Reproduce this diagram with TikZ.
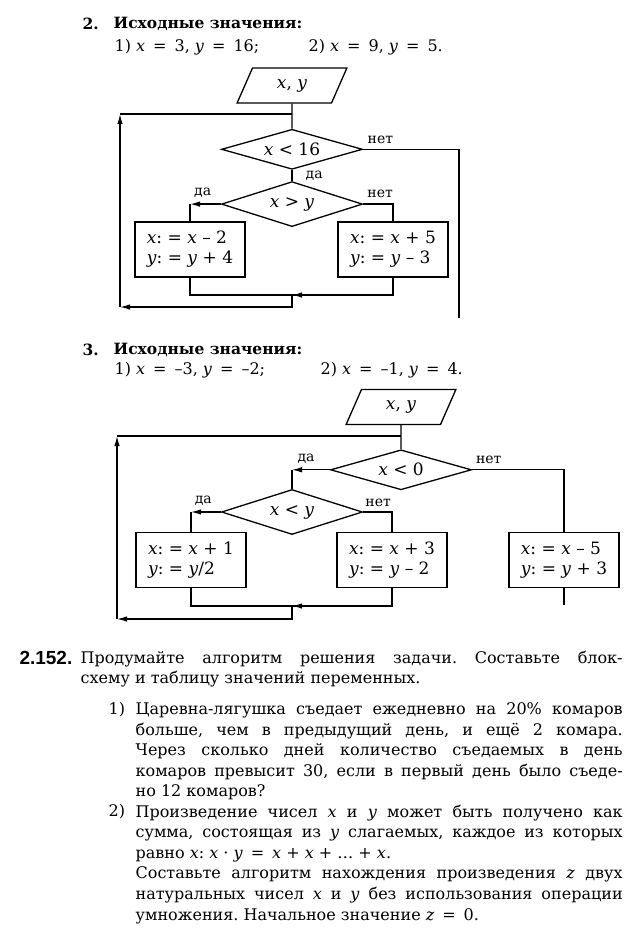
\documentclass[tikz,border=0pt]{standalone}
\usepackage{fontspec}
\setmainfont{DejaVu Serif}
\setsansfont{Liberation Sans}
\usetikzlibrary{positioning,arrows.meta,shapes.geometric}
\hyphenpenalty=10000
\exhyphenpenalty=10000
\frenchspacing
\newcommand{\vx}{\textit{x}}
\newcommand{\vy}{\textit{y}}
\newcommand{\vz}{\textit{z}}
\newcommand{\eqs}{\enspace=\enspace}

\begin{document}
\begin{tikzpicture}[x=1pt, y=-1pt, >={Latex[length=10pt,width=5.5pt]}, line width=1.3pt,
  every node/.style={font=\fontsize{17}{20}\selectfont, inner sep=0pt},
  iobox/.style={draw, trapezium, trapezium left angle=65, trapezium right angle=115,
    trapezium stretches=true, minimum width=110pt, minimum height=35pt},
  decision/.style={draw, diamond, aspect=3.5, minimum width=141pt, minimum height=40pt},
  opbox/.style={draw, rectangle, minimum width=110pt, minimum height=55pt, align=left},
  lbl/.style={font=\fontsize{14}{16}\selectfont},
  head/.style={font=\fontsize{15.5}{20}\selectfont},
  txt/.style={font=\fontsize{16}{20.6}\selectfont}]
  \useasboundingbox (0,0) rectangle (636,932);

  % exercise 2
  \node[head, anchor=west] (h2num) at (82,24) {\textbf{2.}};
  \node[head, anchor=west] (h2head) at (113,24) {\textbf{Исходные значения:}};
  \node[txt, anchor=west] (h2one) at (114,47) {1) \vx\eqs 3, \vy\eqs 16;};
  \node[txt, anchor=west] (h2two) at (308,47) {2) \vx\eqs 9, \vy\eqs 5.};

  \node[iobox] (in2) at (292,85.5) {\vx, \vy};
  \node[decision, below=25pt of in2] (lt16) {\vx{} < 16};
  \node[decision, minimum height=45pt, below=11pt of lt16] (gty) {\vx{} > \vy};
  \node[opbox] (dec2) at (190,249.5) {\vx: = \vx{} – 2\\\vy: = \vy{} + 4};
  \node[opbox] (inc2) at (393,249.5) {\vx: = \vx{} + 5\\\vy: = \vy{} – 3};

  \coordinate (join2) at (292,295);
  \coordinate (back2) at (120,307);
  \coordinate (top2) at (120,114);
  \coordinate (exit2) at (459,318);

  \draw (in2) -- (lt16);
  \draw (lt16) -- node[lbl, right=13pt] {да} (gty);
  \draw (lt16.east) -- node[lbl, above=5pt, pos=0.18] {нет} (lt16.east -| exit2) -- (exit2);
  \draw[->] (gty.west) -- node[lbl, above=6pt, pos=0.59] {да} (gty.west -| dec2.north);
  \draw (gty.west -| dec2.north) -- (dec2.north);
  \draw (gty.east) -- node[lbl, above=6pt, pos=0.57] {нет} (gty.east -| inc2.north) -- (inc2.north);
  \draw (dec2.south) |- (join2 -| inc2) -- (inc2.south);
  \draw[->] (join2 -| inc2) -- (join2);
  \draw[->] (join2) |- (back2);
  \draw[->] (back2) -- (top2);
  \draw (top2) -- (top2 -| in2);

  % exercise 3
  \node[head, anchor=west] (h3num) at (82,350) {\textbf{3.}};
  \node[head, anchor=west] (h3head) at (113,350) {\textbf{Исходные значения:}};
  \node[txt, anchor=west] (h3one) at (114,370) {1) \vx\eqs –3, \vy\eqs –2;};
  \node[txt, anchor=west] (h3two) at (320,370) {2) \vx\eqs –1, \vy\eqs 4.};

  \node[iobox] (in3) at (401,407) {\vx, \vy};
  \node[decision, below=24pt of in3] (lt0) {\vx{} < 0};
  \node[decision, minimum height=45pt] (lty) at (292,512) {\vx{} < \vy};
  \node[opbox] (inc1) at (191,560) {\vx: = \vx{} + 1\\\vy: = \vy/2};
  \node[opbox] (inc3) at (392,560) {\vx: = \vx{} + 3\\\vy: = \vy{} – 2};
  \node[opbox] (dec5) at (564,560) {\vx: = \vx{} – 5\\\vy: = \vy{} + 3};

  \coordinate (join3) at (292,606);
  \coordinate (back3) at (117,619);
  \coordinate (top3) at (117,436);
  \coordinate (exit3) at (564,605);

  \draw (in3) -- (lt0);
  \draw[->] (lt0.west) -- node[lbl, above=6pt, pos=0.63] {да} (lt0.west -| lty.north);
  \draw (lt0.west -| lty.north) -- (lty.north);
  \draw (lt0.east) -- node[lbl, above=5pt, pos=0.18] {нет} (lt0.east -| dec5.north) -- (dec5.north);
  \draw[->] (lty.west) -- node[lbl, above=6pt, pos=0.59] {да} (lty.west -| inc1.north);
  \draw (lty.west -| inc1.north) -- (inc1.north);
  \draw (lty.east) -- node[lbl, above=5pt, pos=0.52] {нет} (lty.east -| inc3.north) -- (inc3.north);
  \draw (dec5.south) -- (exit3);
  \draw (inc1.south) |- (join3 -| inc3) -- (inc3.south);
  \draw[->] (join3 -| inc3) -- (join3);
  \draw[->] (join3) |- (back3);
  \draw[->] (back3) -- (top3);
  \draw (top3) -- (top3 -| in3);

  % exercise 2.152
  \node[font=\sffamily\bfseries\fontsize{19}{20}\selectfont, anchor=east] (pnum) at (73,658) {2.152.};
  \node[txt, anchor=north west, text width=542pt, align=justify] (ptask) at (80,650)
    {Продумайте алгоритм решения задачи. Составьте блок-\linebreak
     схему и таблицу значений переменных.};
  \node[txt, anchor=north west] (pone) at (108,702) {1)};
  \node[txt, anchor=north west, text width=487pt, align=justify] (ptext1) at (135,702)
    {Царевна-лягушка съедает ежедневно на 20\% комаров\linebreak
     больше, чем в предыдущий день, и ещё 2 комара.\linebreak
     Через сколько дней количество съедаемых в день\linebreak
     комаров превысит 30, если в первый день было съеде-\linebreak
     но 12 комаров?};
  \node[txt, anchor=north west] (ptwo) at (108,804) {2)};
  \node[txt, anchor=north west, text width=487pt, align=justify] (ptext2) at (135,804)
    {Произведение чисел \vx{} и \vy{} может быть получено как\linebreak
     сумма, состоящая из \vy{} слагаемых, каждое из которых\linebreak
     равно \vx: \vx{} · \vy\eqs\vx{} + \vx{} + … + \vx.\newline
     Составьте алгоритм нахождения произведения \vz{} двух\linebreak
     натуральных чисел \vx{} и \vy{} без использования операции\linebreak
     умножения. Начальное значение \vz\eqs 0.};
\end{tikzpicture}
\end{document}
